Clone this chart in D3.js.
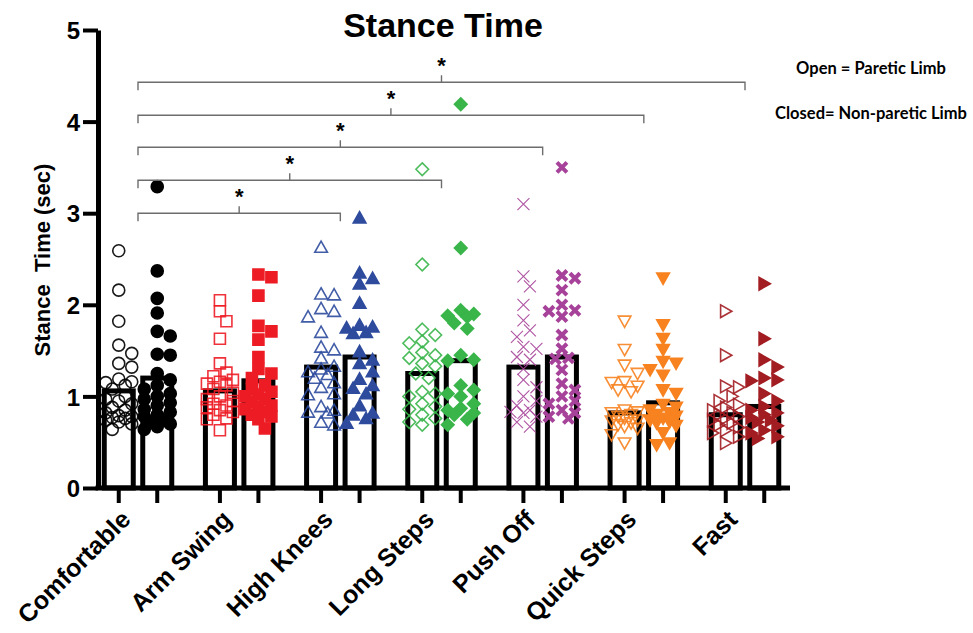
<!DOCTYPE html>
<html>
<head>
<meta charset="utf-8">
<title>Stance Time</title>
<script src="https://cdn.jsdelivr.net/npm/d3@7"></script>
<style>
  body { margin: 0; background: #fff; }
  svg { font-family: "Liberation Sans", Arial, sans-serif; }
</style>
</head>
<body>
<div id="chart"></div>
<script>

// data

const categories = ["Comfortable", "Arm Swing", "High Knees", "Long Steps", "Push Off", "Quick Steps", "Fast"];
const limbs = ["Paretic", "Non-paretic"];
const yTicks = [0, 1, 2, 3, 4, 5];

const pareticMeans    = [1.06, 1.06, 1.32, 1.25, 1.32, 0.82, 0.80];
const nonPareticMeans = [1.20, 1.17, 1.43, 1.39, 1.43, 0.93, 0.89];

const pareticValues = [
  [2.59, 2.16, 1.82, 1.56, 1.47, 1.36, 1.32, 1.19, 1.16, 1.15, 1.12, 1.08, 1.0, 0.97, 0.95, 0.92, 0.88, 0.85, 0.82, 0.79, 0.78, 0.77, 0.76, 0.74, 0.72, 0.70, 0.64],
  [2.05, 1.93, 1.82, 1.63, 1.36, 1.26, 1.22, 1.18, 1.16, 1.14, 1.12, 1.08, 1.04, 1.0, 0.97, 0.95, 0.92, 0.90, 0.88, 0.85, 0.83, 0.80, 0.76, 0.75, 0.63],
  [2.63, 2.12, 2.11, 1.96, 1.93, 1.87, 1.70, 1.54, 1.51, 1.42, 1.33, 1.30, 1.27, 1.24, 1.20, 1.15, 1.10, 1.03, 1.02, 0.89, 0.85, 0.83, 0.82, 0.72, 0.69],
  [3.48, 2.44, 1.73, 1.67, 1.60, 1.58, 1.48, 1.45, 1.42, 1.36, 1.33, 1.25, 1.20, 1.05, 1.03, 1.0, 0.92, 0.89, 0.86, 0.80, 0.76, 0.72, 0.69],
  [3.10, 2.31, 2.20, 2.00, 1.83, 1.72, 1.65, 1.54, 1.52, 1.43, 1.40, 1.30, 1.18, 1.10, 1.0, 0.95, 0.90, 0.85, 0.83, 0.82, 0.78, 0.72, 0.67],
  [1.82, 1.51, 1.34, 1.25, 1.16, 1.15, 1.11, 1.07, 1.05, 0.85, 0.83, 0.82, 0.80, 0.78, 0.76, 0.74, 0.73, 0.71, 0.69, 0.67, 0.65, 0.58, 0.49],
  [1.93, 1.45, 1.11, 1.10, 1.0, 0.95, 0.91, 0.88, 0.85, 0.82, 0.80, 0.78, 0.76, 0.74, 0.71, 0.69, 0.66, 0.63, 0.60, 0.56, 0.49]
];

const nonPareticValues = [
  [3.29, 2.37, 2.07, 1.91, 1.71, 1.66, 1.46, 1.45, 1.25, 1.18, 1.12, 1.08, 1.03, 1.0, 0.97, 0.93, 0.90, 0.86, 0.83, 0.80, 0.78, 0.75, 0.72, 0.70, 0.67, 0.64],
  [2.33, 2.30, 2.10, 1.77, 1.71, 1.62, 1.43, 1.30, 1.25, 1.20, 1.12, 1.08, 1.05, 1.02, 1.0, 0.97, 0.94, 0.90, 0.88, 0.86, 0.83, 0.80, 0.78, 0.75, 0.65],
  [2.95, 2.35, 2.29, 2.23, 2.02, 1.78, 1.76, 1.75, 1.70, 1.69, 1.49, 1.40, 1.36, 1.27, 1.19, 1.12, 1.09, 1.03, 0.90, 0.82, 0.80, 0.76, 0.71],
  [4.19, 2.62, 1.94, 1.90, 1.88, 1.87, 1.80, 1.74, 1.45, 1.40, 1.39, 1.12, 1.07, 1.03, 1.0, 0.92, 0.87, 0.85, 0.82, 0.80, 0.75, 0.69],
  [3.50, 2.32, 2.29, 2.16, 2.00, 1.94, 1.93, 1.87, 1.67, 1.52, 1.42, 1.41, 1.29, 1.14, 1.07, 1.0, 0.95, 0.92, 0.85, 0.82, 0.78, 0.76],
  [2.29, 1.78, 1.63, 1.51, 1.38, 1.36, 1.29, 1.23, 1.07, 1.03, 0.91, 0.88, 0.85, 0.82, 0.80, 0.78, 0.76, 0.74, 0.72, 0.71, 0.68, 0.60, 0.49, 0.47],
  [2.23, 1.63, 1.40, 1.32, 1.20, 1.18, 1.17, 1.03, 0.95, 0.89, 0.85, 0.82, 0.80, 0.77, 0.74, 0.72, 0.68, 0.63, 0.60, 0.56, 0.54]
];

// significant comparisons against Comfortable, and the height of each bracket
const bracketTargets = ["High Knees", "Long Steps", "Push Off", "Quick Steps", "Fast"];
const bracketLevels  = [3.0, 3.36, 3.72, 4.07, 4.43];

// styling

const shapes = ["circle", "square", "triangleUp", "diamond", "cross", "triangleDown", "triangleRight"];
const colors = ["#000000", "#ed1c24", "#2e4b9d", "#39b54a", "#a64299", "#f7821f", "#a21d22"];

const width = 973, height = 633;

const svg = d3.select("#chart").append("svg")
    .attr("width", width)
    .attr("height", height)
    .attr("viewBox", [0, 0, width, height]);

const y = d3.scaleLinear().domain([0, 5]).range([488, 30]);
const xGroup = d3.scalePoint().domain(categories).range([138, 745]);
const xLimb = d3.scalePoint().domain(limbs).range([-19.25, 19.25]);
const barWidth = 34, barStroke = 5;
const axisX = 98, axisEnd = xGroup(categories[categories.length - 1]) + 45;

function markerPath(shape, s) {
  const p = d3.path();
  if (shape === "circle") {
    p.moveTo(s, 0); p.arc(0, 0, s, 0, 2 * Math.PI);
  } else if (shape === "square") {
    p.rect(-s, -s, 2 * s, 2 * s);
  } else if (shape === "diamond") {
    const d = s * 1.15;
    p.moveTo(0, -d); p.lineTo(d, 0); p.lineTo(0, d); p.lineTo(-d, 0); p.closePath();
  } else if (shape === "cross") {
    p.moveTo(-s, -s); p.lineTo(s, s); p.moveTo(s, -s); p.lineTo(-s, s);
  } else {
    const h = s * 1.1, w = s * 1.15;
    let pts = [[0, -h], [w, h * 0.85], [-w, h * 0.85]];
    if (shape === "triangleDown") pts = pts.map(([a, b]) => [a, -b]);
    if (shape === "triangleRight") pts = pts.map(([a, b]) => [-b, a]);
    p.moveTo(pts[0][0], pts[0][1]); p.lineTo(pts[1][0], pts[1][1]); p.lineTo(pts[2][0], pts[2][1]); p.closePath();
  }
  return p.toString();
}

// spread points sideways inside a bar so they do not sit on top of each other
function swarm(values) {
  const step = 6.5, minDist = 10.5;
  const offsets = [0, 1, -1, 2, -2].map(k => k * step);
  const placed = [];
  values.forEach(v => {
    const py = y(v);
    let best = 0, bestScore = -1;
    for (const ox of offsets) {
      let dmin = Infinity;
      for (const q of placed) dmin = Math.min(dmin, Math.hypot(q.dx - ox, q.py - py));
      if (dmin >= minDist) { best = ox; bestScore = Infinity; break; }
      if (dmin > bestScore) { bestScore = dmin; best = ox; }
    }
    placed.push({ v, py, dx: best });
  });
  return placed;
}

const series = [];
categories.forEach((cat, i) => {
  series.push({ cat, limb: limbs[0], i, mean: pareticMeans[i], values: pareticValues[i], open: true });
  series.push({ cat, limb: limbs[1], i, mean: nonPareticMeans[i], values: nonPareticValues[i], open: false });
});
series.forEach(s => { s.cx = xGroup(s.cat) + xLimb(s.limb); });

// bars
svg.append("g").selectAll("rect")
  .data(series)
  .join("rect")
    .attr("x", d => d.cx - (barWidth - barStroke) / 2)
    .attr("y", d => y(d.mean))
    .attr("width", barWidth - barStroke)
    .attr("height", d => y(0) - y(d.mean))
    .attr("fill", "#fff")
    .attr("stroke", "#000")
    .attr("stroke-width", barStroke);

// points
const pointGroups = svg.append("g").selectAll("g")
  .data(series)
  .join("g");

pointGroups.each(function(s) {
  const shape = shapes[s.i], color = colors[s.i];
  const isCross = shape === "cross";
  d3.select(this).selectAll("path")
    .data(swarm(s.values))
    .join("path")
      .attr("transform", d => `translate(${s.cx + d.dx},${d.py})`)
      .attr("d", markerPath(shape, isCross ? (s.open ? 6 : 5) : (shape === "circle" ? 6 : 5.5)))
      .attr("fill", s.open || isCross ? "none" : color)
      .attr("stroke", color)
      .attr("stroke-opacity", s.open ? 0.9 : 1)
      .attr("stroke-width", isCross ? (s.open ? 1.1 : 4) : 1.6);
});

// y axis
const yAxis = svg.append("g")
    .attr("transform", `translate(${axisX},0)`)
    .call(d3.axisLeft(y).tickValues(yTicks).tickFormat(d3.format("d"))
      .tickSize(15).tickSizeOuter(0).tickPadding(3));
yAxis.select(".domain").attr("stroke-width", 5).attr("stroke", "#000");
yAxis.selectAll(".tick line").attr("stroke-width", 4).attr("stroke", "#000");
yAxis.selectAll(".tick text")
    .attr("fill", "#000")
    .style("font-size", "24px")
    .style("font-weight", "bold")
    .attr("dy", "0.36em");

// x axis line and ticks under each bar
svg.append("line")
    .attr("x1", axisX - 2.5).attr("x2", axisEnd)
    .attr("y1", y(0)).attr("y2", y(0))
    .attr("stroke", "#000").attr("stroke-width", 5);

svg.append("g").selectAll("line")
  .data(series)
  .join("line")
    .attr("x1", d => d.cx).attr("x2", d => d.cx)
    .attr("y1", y(0)).attr("y2", y(0) + 15)
    .attr("stroke", "#000").attr("stroke-width", 4);

svg.append("g").selectAll("text")
  .data(categories)
  .join("text")
    .attr("transform", d => `translate(${xGroup(d) - 6},${y(0) + 33}) rotate(-45)`)
    .attr("text-anchor", "end")
    .style("font-size", "25px")
    .style("font-weight", "bold")
    .text(d => d);

// y title
svg.append("text")
    .attr("transform", `translate(50,${y(2.5) + 1}) rotate(-90)`)
    .attr("text-anchor", "middle")
    .style("font-size", "22px")
    .style("font-weight", "bold")
    .style("white-space", "pre")
    .text("Stance  Time (sec)");

// title
svg.append("text")
    .attr("x", (axisX + axisEnd) / 2 - 1)
    .attr("y", 37)
    .attr("text-anchor", "middle")
    .style("font-size", "34px")
    .style("font-weight", "bold")
    .text("Stance Time");

// significance brackets
const bracketGroup = svg.append("g");
bracketTargets.forEach((target, k) => {
  const x1 = xGroup(categories[0]), x2 = xGroup(target), by = y(bracketLevels[k]);
  const mid = (x1 + x2) / 2;
  bracketGroup.append("path")
      .attr("d", `M${x1},${by + 8}V${by}H${x2}V${by + 8}M${mid},${by}V${by - 7}`)
      .attr("fill", "none")
      .attr("stroke", "#6d6d6d")
      .attr("stroke-width", 1.4);
  bracketGroup.append("text")
      .attr("x", mid)
      .attr("y", by - 9)
      .attr("text-anchor", "middle")
      .style("font-size", "22px")
      .style("font-weight", "bold")
      .text("*");
});

// legend note
const note = svg.append("g")
    .style("font-family", "Lato, 'Open Sans', sans-serif")
    .style("font-size", "16.5px")
    .style("font-weight", "bold");
note.append("text").attr("x", 871).attr("y", 74).attr("text-anchor", "middle").text("Open = Paretic Limb");
note.append("text").attr("x", 871).attr("y", 119).attr("text-anchor", "middle").text("Closed= Non-paretic Limb");

</script>
</body>
</html>
